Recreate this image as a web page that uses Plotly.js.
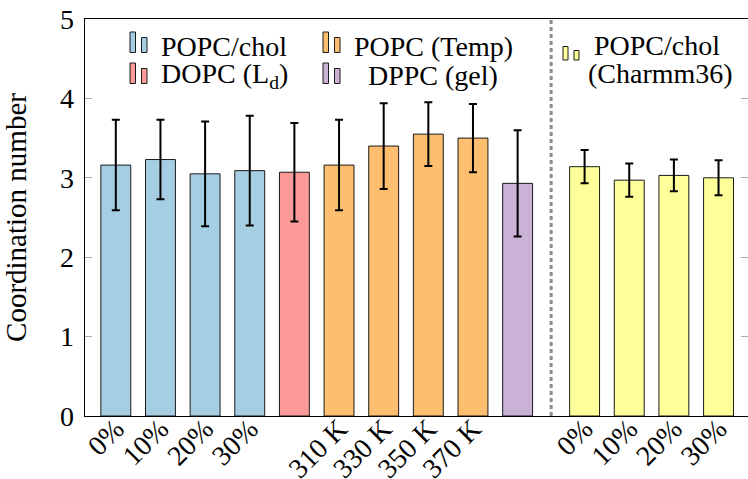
<!DOCTYPE html>
<html>
<head>
<meta charset="utf-8">
<script src="https://cdn.plot.ly/plotly-3.0.1.min.js"></script>
<style>
  html, body { margin: 0; padding: 0; background: #fff; overflow: hidden; }
  #chart { width: 748px; height: 479px; }
</style>
</head>
<body>
<div id="chart"></div>
<script>
// Coordination numbers (mean ± std) per system
const cholLabels = ['0%', '10%', '20%', '30%'];
const cholMean   = [3.16, 3.23, 3.05, 3.09];
const cholErr    = [0.57, 0.50, 0.66, 0.69];

const dopcLabels = [''];
const dopcMean   = [3.07];
const dopcErr    = [0.62];

const tempLabels = ['310 K', '330 K', '350 K', '370 K'];
const tempMean   = [3.16, 3.40, 3.55, 3.50];
const tempErr    = [0.57, 0.54, 0.40, 0.43];

const dppcLabels = [''];
const dppcMean   = [2.93];
const dppcErr    = [0.67];

const charmmLabels = ['0%', '10%', '20%', '30%'];
const charmmMean   = [3.14, 2.97, 3.03, 3.00];
const charmmErr    = [0.21, 0.21, 0.20, 0.22];

const FONT = 'Liberation Serif';
const COLORS = {
  chol: '#a6cee3', dopc: '#fb9a99', temp: '#fdbf6f', dppc: '#cab2d6', charmm: '#ffff99'
};

// Lay groups side by side; the Charmm36 block sits after a half-slot gap.
const groups = [
  { labels: cholLabels,   mean: cholMean,   err: cholErr,   color: COLORS.chol,   gap: 0 },
  { labels: dopcLabels,   mean: dopcMean,   err: dopcErr,   color: COLORS.dopc,   gap: 0 },
  { labels: tempLabels,   mean: tempMean,   err: tempErr,   color: COLORS.temp,   gap: 0 },
  { labels: dppcLabels,   mean: dppcMean,   err: dppcErr,   color: COLORS.dppc,   gap: 0 },
  { labels: charmmLabels, mean: charmmMean, err: charmmErr, color: COLORS.charmm, gap: 0.5 }
];

const traces = [];
const tickvals = [];
const ticktext = [];
let slot = 0;
let separatorX = null;
groups.forEach(g => {
  if (g.gap) { separatorX = (slot - 1) + (1 + g.gap) / 2; slot += g.gap; }
  const xs = g.mean.map((_, i) => slot + i);
  xs.forEach((x, i) => { tickvals.push(x); ticktext.push(g.labels[i]); });
  traces.push({
    type: 'bar',
    x: xs,
    y: g.mean,
    width: 0.67,
    marker: { color: g.color, line: { color: '#1a1a1a', width: 1 } },
    error_y: { type: 'data', array: g.err, visible: true, color: '#000', thickness: 2, width: 4 },
    showlegend: false,
    hoverinfo: 'skip'
  });
  slot += g.mean.length;
});
// invisible helper so the right-hand tick axis is drawn
traces.push({ type: 'scatter', x: [0], y: [0], yaxis: 'y2', mode: 'markers',
  marker: { opacity: 0 }, showlegend: false, hoverinfo: 'skip' });

// pixel helpers for the hand-drawn legend
const L = 85, R = 748, T = 19, B = 416;
const px = v => (v - L) / (R - L);
const py = v => (B - v) / (B - T);

const shapes = [];
const annotations = [];
function icon(x0, yBottom, hTall, hShort, w, color) {
  [[x0, hTall], [x0 + w + 6, hShort]].forEach(([xl, h]) => {
    shapes.push({
      type: 'rect', xref: 'paper', yref: 'paper',
      x0: px(xl), x1: px(xl + w), y0: py(yBottom), y1: py(yBottom - h),
      fillcolor: color, line: { color: '#1a1a1a', width: 1 }
    });
  });
}
function label(text, xc, yc) {
  annotations.push({
    text: text, xref: 'paper', yref: 'paper', x: px(xc), y: py(yc),
    xanchor: 'center', yanchor: 'middle', showarrow: false,
    font: { family: FONT, size: 28, color: '#000' }
  });
}

icon(130, 52.5, 20.5, 15, 5.5, COLORS.chol);
icon(323, 52.5, 20.5, 15, 5.5, COLORS.temp);
icon(130, 83.5, 20.5, 15, 5.5, COLORS.dopc);
icon(323, 83.5, 20.5, 15, 5.5, COLORS.dppc);
icon(563, 60, 13.5, 9.5, 5, COLORS.charmm);

label('POPC/chol', 224, 46);
label('POPC (Temp)', 433, 46);
label('DOPC (L<sub>d</sub>)', 224, 75);
label('DPPC (gel)', 433, 75);
label('POPC/chol', 657, 45);
label('(Charmm36)', 660, 73);

// separator between the two force-field blocks
shapes.push({
  type: 'line', xref: 'x', yref: 'paper', x0: separatorX, x1: separatorX, y0: 0, y1: 1,
  line: { color: '#8c8c8c', width: 3, dash: '4px,3px' }
});

const layout = {
  width: 748, height: 479,
  margin: { l: L, r: 748 - R, t: T, b: 479 - B },
  paper_bgcolor: '#fff', plot_bgcolor: '#fff',
  font: { family: FONT, size: 27, color: '#000' },
  bargap: 0,
  xaxis: {
    range: [-0.69, 14.16],
    tickmode: 'array', tickvals: tickvals, ticktext: ticktext,
    tickangle: -45, ticks: '', showgrid: false, zeroline: false,
    showline: true, linecolor: '#000', linewidth: 1.3, mirror: true,
    ticklabelstandoff: -16,
    tickfont: { family: FONT, size: 28, color: '#000' }
  },
  yaxis: {
    range: [0, 5], dtick: 1, tick0: 0,
    ticks: 'inside', ticklen: 7, tickcolor: '#aaaaaa', tickwidth: 1,
    showgrid: false, zeroline: false,
    showline: true, linecolor: '#000', linewidth: 1.3,
    ticklabelstandoff: 4,
    tickfont: { family: FONT, size: 28, color: '#000' },
    title: { text: 'Coordination number', font: { family: FONT, size: 29, color: '#000' } }
  },
  yaxis2: {
    overlaying: 'y', side: 'right', range: [0, 5], dtick: 1, tick0: 0,
    ticks: 'inside', ticklen: 7, tickcolor: '#aaaaaa', tickwidth: 1,
    showticklabels: false, showgrid: false, zeroline: false, showline: false
  },
  shapes: shapes,
  annotations: annotations
};

Plotly.newPlot('chart', traces, layout, { displayModeBar: false, staticPlot: true });
</script>
</body>
</html>
